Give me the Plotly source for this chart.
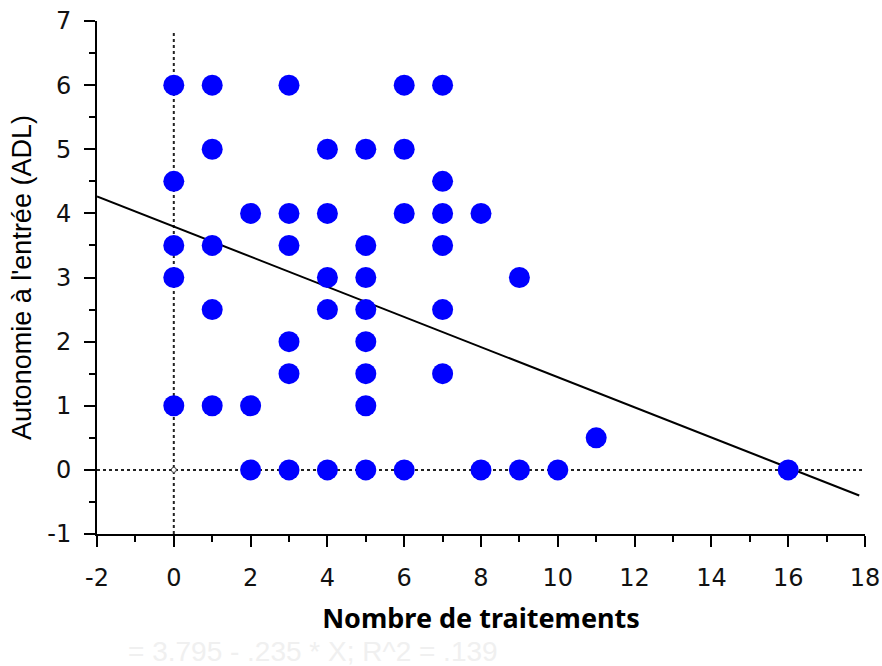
import plotly.graph_objects as go

# Data
traitements = [0, 0, 0, 0, 0,
               1, 1, 1, 1, 1,
               2, 2, 2,
               3, 3, 3, 3, 3, 3,
               4, 4, 4, 4, 4,
               5, 5, 5, 5, 5, 5, 5, 5,
               6, 6, 6, 6,
               7, 7, 7, 7, 7, 7,
               8, 8,
               9, 9,
               10,
               11,
               16]
autonomie = [6, 4.5, 3.5, 3, 1,
             6, 5, 3.5, 2.5, 1,
             4, 1, 0,
             6, 4, 3.5, 2, 1.5, 0,
             5, 4, 3, 2.5, 0,
             5, 3.5, 3, 2.5, 2, 1.5, 1, 0,
             6, 5, 4, 0,
             6, 4.5, 4, 3.5, 2.5, 1.5,
             4, 0,
             3, 0,
             0,
             0.5,
             0]

intercept = 3.795
slope = -0.235
fit_x = [-2, 17.85]
fit_y = [intercept + slope * v for v in fit_x]

x_ticks = [-2, 0, 2, 4, 6, 8, 10, 12, 14, 16, 18]
x_ticktext = ["-2", "0", "2", "4", "6", "8", "10", "12", "14", "16", "18"]
y_ticks = [-1, 0, 1, 2, 3, 4, 5, 6, 7]
y_ticktext = ["-1", "0", "1", "2", "3", "4", "5", "6", "7"]

fig = go.Figure()

# reference dotted lines
fig.add_trace(go.Scatter(x=[0, 0], y=[-1, 6.85], mode="lines",
                         line=dict(color="#222", width=2, dash="dot"),
                         hoverinfo="skip", showlegend=False))
fig.add_trace(go.Scatter(x=[-2, 18], y=[0, 0], mode="lines",
                         line=dict(color="#222", width=2, dash="dot"),
                         hoverinfo="skip", showlegend=False))
fig.add_trace(go.Scatter(x=[0], y=[0], mode="markers",
                         marker=dict(size=5, color="white",
                                     line=dict(color="#444", width=1)),
                         hoverinfo="skip", showlegend=False))

# regression line
fig.add_trace(go.Scatter(x=fit_x, y=fit_y, mode="lines",
                         line=dict(color="black", width=2),
                         showlegend=False))

# points
fig.add_trace(go.Scatter(x=traitements, y=autonomie, mode="markers",
                         marker=dict(size=21, color="#0000ff", symbol="circle",
                                     line=dict(width=0)),
                         showlegend=False))

tickfont = dict(family="DejaVu Sans, sans-serif", size=24, color="#111")

fig.update_layout(
    width=882, height=666,
    margin=dict(l=97, r=17, t=21, b=132),
    paper_bgcolor="white", plot_bgcolor="white",
    font=dict(family="Liberation Sans, Arial, sans-serif", color="black"),
    xaxis=dict(range=[-2, 18], tickvals=x_ticks, ticktext=x_ticktext,
               showgrid=False, zeroline=False, automargin=False,
               showline=True, linecolor="black", linewidth=2,
               ticks="outside", ticklen=11, tickwidth=2, tickcolor="black",
               tickfont=tickfont, ticklabelstandoff=10,
               minor=dict(dtick=1, ticks="outside", ticklen=6, tickwidth=2,
                          tickcolor="black", showgrid=False),
               title=dict(text="Nombre de traitements",
                          font=dict(family="Noto Sans, Open Sans, sans-serif",
                                    size=27, color="black", weight="bold"),
                          standoff=18)),
    yaxis=dict(range=[-1, 7], tickvals=y_ticks, ticktext=y_ticktext,
               showgrid=False, zeroline=False, automargin=False,
               showline=True, linecolor="black", linewidth=2,
               ticks="outside", ticklen=11, tickwidth=2, tickcolor="black",
               tickfont=tickfont, ticklabelstandoff=8,
               minor=dict(dtick=0.5, ticks="outside", ticklen=6, tickwidth=2,
                          tickcolor="black", showgrid=False),
               title=dict(text="Autonomie à l'entrée (ADL)",
                          font=dict(size=27, color="black"), standoff=8)),
    annotations=[dict(text="= 3.795 - .235 * X; R^2 = .139",
                      xref="paper", yref="paper", x=(126 - 97) / 768,
                      y=-(651 - 534) / 513, xanchor="left", yanchor="middle",
                      showarrow=False,
                      font=dict(size=28, color="#f0f0f0",
                                family="Liberation Sans, Arial, sans-serif"))],
)

fig.write_html("out.html")
